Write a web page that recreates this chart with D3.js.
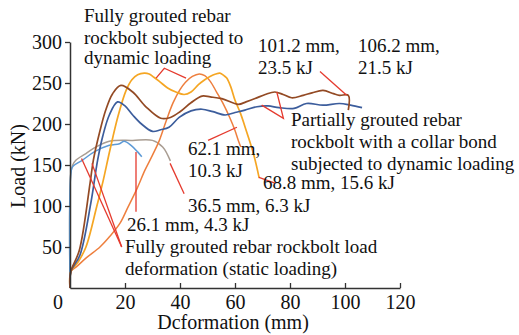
<!DOCTYPE html>
<html><head><meta charset="utf-8">
<script src="https://cdn.jsdelivr.net/npm/d3@7"></script>
<style>
body{margin:0;background:#fff}
svg{display:block}
</style>
</head><body>
<svg id="chart" width="519" height="335"></svg>
<script>
// ---- data (deformation mm, load kN) ----
const xTicks = [20, 40, 60, 80, 100, 120];
const yTicks = [50, 100, 150, 200, 250, 300];

const partialCollarA = [[0,0],[0.3,20],[3.4,46],[7.3,128],[8.5,156],[10.7,189],[13,217],[15.5,237],[18.5,247],[22.8,239],[27.6,221],[33,207],[36.5,208],[40,215],[44,226],[48,234],[51,233],[55.2,231],[61.2,224],[64,227],[67.3,231],[71,236],[74.5,239],[77.5,236],[80.6,232],[84.8,235],[88,238],[92,241],[95.8,237],[98,235],[101.2,235],[101.2,217]];
const partialCollarB = [[0,0],[0.3,20],[3.6,40],[7.6,104],[10,155],[11.9,185],[14.3,211],[17.3,227],[20,222],[22.8,211],[26,200],[30,191],[33,193],[36,196],[39.7,208],[44,216],[48,218],[52,215],[56.4,211],[60,214],[63.6,217],[68,221],[72,222],[76,220],[81.5,219],[86,225],[92,223],[98,225],[102,223],[106.2,220]];
const fullyDynA = [[0,0],[0.3,20],[3,32],[5.8,50],[9.7,99],[12,130],[14.5,168],[17.5,210],[20.4,241],[22.5,254],[24.6,260],[27,262],[28.8,261],[30.5,257],[32.5,252],[35.5,244],[38.5,239],[41.5,236],[44,239],[46.7,248],[49,254],[50.9,258],[53,261],[54.5,262],[56,259],[57,256],[58.5,245],[60,229],[62,213],[63.6,197],[66.7,164],[68.8,134]];
const fullyDynB = [[0,0],[0.3,20],[2.4,26],[6,37],[10.9,50],[14.5,63],[18.2,79],[21,98],[24.2,120],[27.3,144],[30,162],[32.5,180],[35,204],[37.5,226],[40,242],[42,251],[44.5,258],[47,261],[49,259],[51,252],[53.3,239],[55.5,226],[58.2,207],[60,192],[61.2,180],[62.1,172]];
const staticA = [[0,0],[0.3,140],[1,150],[2.2,156],[5.8,164],[9.5,172],[14.3,179],[22.8,180],[30,180],[33.7,172],[36.5,155]];
const staticB = [[0,0],[0.4,142],[1,148],[4.6,156],[8.8,166],[14.3,174],[18,176],[19.7,179],[22.2,174],[24.6,166],[26.1,160]];

// annotation pointer lines (data units)
const pointers = [
  [[31.3,256],[34.3,268],[42.2,256]],
  [[90.9,264],[100.6,235]],
  [[69.7,223],[77.6,207],[75.2,239]],
  [[50.2,180],[60.7,196]],
  [[68.7,135],[74.5,128]],
  [[36.4,152],[41.5,115]],
  [[24,166],[24,93]],
  [[4.2,158],[18.8,50]],
  [[8,152],[18.8,50]]
];

// ---- layout ----
const FONT = "Liberation Serif";
const svg = d3.select("#chart");
const x = d3.scaleLinear().domain([0,120]).range([70,400]);
const y = d3.scaleLinear().domain([0,300]).range([288,42]);

const series = [
  {d: staticA, c: "#a99d92", w: 1.5},
  {d: staticB, c: "#5d9ad6", w: 1.5},
  {d: fullyDynB, c: "#ee7f3e", w: 1.5},
  {d: fullyDynA, c: "#f5a623", w: 1.7},
  {d: partialCollarB, c: "#3c5d9c", w: 1.7},
  {d: partialCollarA, c: "#934a24", w: 1.7}
];

const line = d3.line().x(d => x(d[0])).y(d => y(d[1])).curve(d3.curveCatmullRom.alpha(0.5));
svg.append("g").selectAll("path").data(series).join("path")
  .attr("d", s => line(s.d)).attr("fill","none")
  .attr("stroke", s => s.c).attr("stroke-width", s => s.w);

const pline = d3.line().x(d => x(d[0])).y(d => y(d[1]));
svg.append("g").selectAll("path").data(pointers).join("path")
  .attr("d", pline).attr("fill","none").attr("stroke","#e53a2e").attr("stroke-width",1.3);

// axes
const yAxis = svg.append("g").attr("transform","translate(70,0)")
  .call(d3.axisLeft(y).tickValues(yTicks).tickSize(5).tickPadding(3).tickSizeOuter(0));
const xAxis = svg.append("g").attr("transform","translate(0,288)")
  .call(d3.axisBottom(x).tickValues(xTicks).tickSize(-5).tickPadding(7).tickSizeOuter(0));
[yAxis, xAxis].forEach(g => {
  g.attr("font-family", FONT).attr("font-size", 20);
  g.select(".domain").attr("stroke","#333").attr("stroke-width",1.5);
  g.selectAll(".tick line").attr("stroke","#333").attr("stroke-width",1.3);
  g.selectAll(".tick text").attr("fill","#111");
});

const txt = (xx, yy, t, size, anchor) => svg.append("text")
  .attr("x", xx).attr("y", yy).attr("font-family", FONT).attr("font-size", size)
  .attr("fill", "#111").attr("text-anchor", anchor || "start").text(t);

txt(58, 309, "0", 20, "middle");
txt(233, 329, "Dcformation (mm)", 20, "middle");
svg.append("text").attr("transform","translate(25,166) rotate(-90)").attr("text-anchor","middle")
  .attr("font-family", FONT).attr("font-size", 20).attr("fill","#111").text("Load (kN)");

// annotation labels (pixel layout)
const labels = [
  {x:84, y:[22,44,64], t:["Fully grouted rebar","rockbolt subjected to","dynamic loading"]},
  {x:258, y:[52,74], t:["101.2 mm,","23.5 kJ"]},
  {x:358, y:[52,74], t:["106.2 mm,","21.5 kJ"]},
  {x:291, y:[126,148,170], t:["Partially grouted rebar","rockbolt with a collar bond","subjected to dynamic loading"]},
  {x:188, y:[155,177], t:["62.1 mm,","10.3 kJ"]},
  {x:263, y:[189], t:["68.8 mm, 15.6 kJ"]},
  {x:188, y:[212], t:["36.5 mm, 6.3 kJ"]},
  {x:127, y:[231], t:["26.1 mm, 4.3 kJ"]},
  {x:125, y:[253,275], t:["Fully grouted rebar rockbolt load","deformation (static loading)"]}
];
labels.forEach(l => l.t.forEach((t,i) => txt(l.x, l.y[i], t, 19)));
</script>
</body></html>
